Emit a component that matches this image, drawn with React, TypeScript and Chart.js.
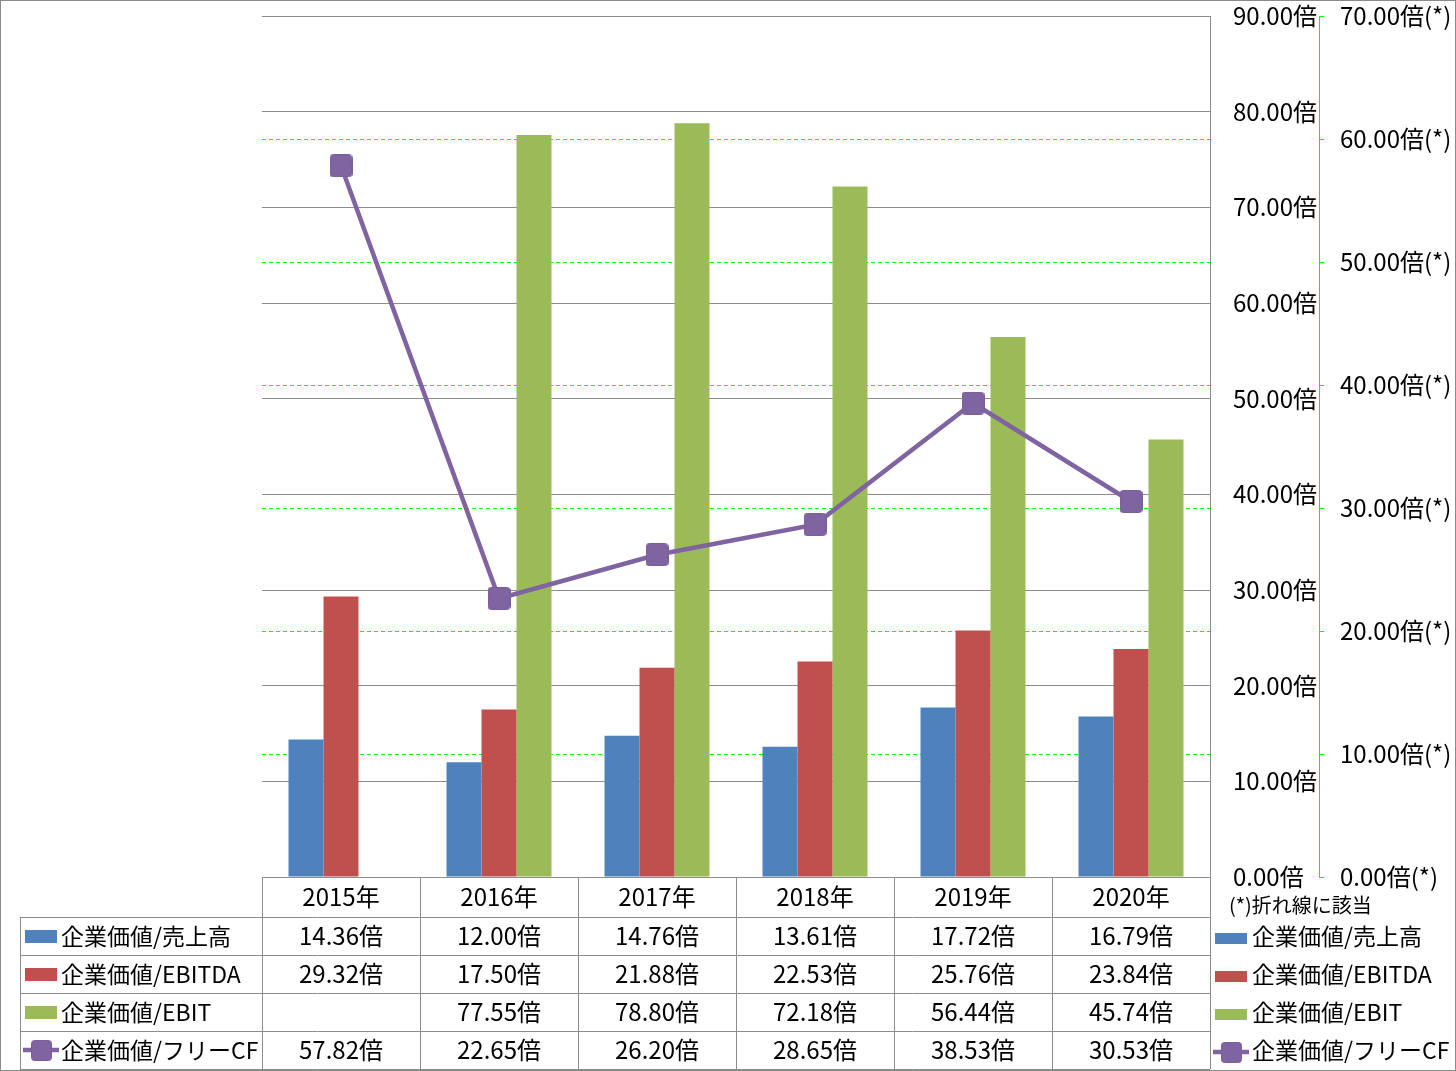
import React, { useEffect, useRef } from "react";
import { Chart, registerables } from "chart.js";

Chart.register(...registerables);

const categories = ["2015年", "2016年", "2017年", "2018年", "2019年", "2020年"];
const seriesNames = ["企業価値/売上高", "企業価値/EBITDA", "企業価値/EBIT", "企業価値/フリーCF"];
const evSales = [14.36, 12.0, 14.76, 13.61, 17.72, 16.79];
const evEbitda = [29.32, 17.5, 21.88, 22.53, 25.76, 23.84];
const evEbit: (number | null)[] = [null, 77.55, 78.8, 72.18, 56.44, 45.74];
const evFcf = [57.82, 22.65, 26.2, 28.65, 38.53, 30.53];
const seriesColors = ["#4F81BD", "#C0504D", "#9BBB59", "#8064A2"];
const primaryMax = 90;
const secondaryMax = 70;
const tickStep = 10;
const noteText = "(*)折れ線に該当";

const FONT = '"Noto Sans CJK JP", "Noto Sans", sans-serif';

function makeMarker(size: number) {
  const c = document.createElement("canvas");
  c.width = size;
  c.height = size;
  const g = c.getContext("2d")!;
  const r = 3;
  g.beginPath();
  g.moveTo(r + 0.5, 0.5);
  g.arcTo(size - 0.5, 0.5, size - 0.5, size - 0.5, r);
  g.arcTo(size - 0.5, size - 0.5, 0.5, size - 0.5, r);
  g.arcTo(0.5, size - 0.5, 0.5, 0.5, r);
  g.arcTo(0.5, 0.5, size - 0.5, 0.5, r);
  g.closePath();
  g.fillStyle = "#8064A2";
  g.fill();
  g.strokeStyle = "#7A5E9C";
  g.lineWidth = 1;
  g.stroke();
  return c;
}

export default function App() {
  const ref = useRef<HTMLCanvasElement | null>(null);

  useEffect(() => {
    const canvas = ref.current;
    if (!canvas) return;
    const marker = makeMarker(23);
    const smallMarker = makeMarker(21);
    const seriesValues = [evSales, evEbitda, evEbit, evFcf];

    const tablePlugin = {
      id: "dataTable",
      afterDraw(chart: any) {
        const ctx = chart.ctx as CanvasRenderingContext2D;
        const xs = chart.scales.x;
        const area = chart.chartArea;
        const W = chart.width;
        const H = chart.height;
        const catW = (area.right - area.left) / categories.length;
        const top = area.bottom;
        const headerH = 40;
        const rowH = 38;
        const labelLeft = 20;
        const rowTops = [top + headerH];
        for (let i = 1; i <= seriesNames.length; i++) rowTops.push(top + headerH + i * rowH);
        const bottom = rowTops[rowTops.length - 1];
        ctx.save();
        // outer border
        ctx.strokeStyle = "#8A8A8A";
        ctx.lineWidth = 1;
        ctx.strokeRect(0.5, 0.5, W - 1, H - 1);
        // table lines
        ctx.strokeStyle = "#8C8C8C";
        ctx.beginPath();
        ctx.moveTo(area.left, top + 0.5);
        ctx.lineTo(area.right, top + 0.5);
        for (const y of rowTops) {
          ctx.moveTo(labelLeft, Math.round(y) + 0.5);
          ctx.lineTo(area.right, Math.round(y) + 0.5);
        }
        ctx.moveTo(labelLeft + 0.5, rowTops[0]);
        ctx.lineTo(labelLeft + 0.5, bottom);
        for (let i = 0; i <= categories.length; i++) {
          const x = Math.round(area.left + i * catW) + 0.5;
          ctx.moveTo(x, top);
          ctx.lineTo(x, bottom);
        }
        ctx.stroke();

        ctx.fillStyle = "#000";
        ctx.textBaseline = "middle";
        ctx.font = `24px ${FONT}`;
        ctx.textAlign = "center";
        categories.forEach((c, i) => {
          ctx.fillText(c, xs.getPixelForValue(i), top + headerH / 2);
        });
        seriesValues.forEach((vals, s) => {
          const cy = rowTops[s] + rowH / 2;
          ctx.textAlign = "center";
          ctx.fillStyle = "#000";
          vals.forEach((v, i) => {
            if (v === null || v === undefined) return;
            ctx.fillText(`${v.toFixed(2)}倍`, xs.getPixelForValue(i), cy);
          });
        });

        const drawKey = (s: number, x0: number, cy: number, boxH: number, mk: HTMLCanvasElement) => {
          if (s < 3) {
            ctx.fillStyle = seriesColors[s];
            ctx.fillRect(x0, Math.round(cy - boxH / 2), 32, boxH);
          } else {
            ctx.strokeStyle = seriesColors[3];
            ctx.lineWidth = 4.5;
            ctx.beginPath();
            ctx.moveTo(x0 - 2, cy);
            ctx.lineTo(x0 + 34, cy);
            ctx.stroke();
            ctx.drawImage(mk, Math.round(x0 + 16 - mk.width / 2), Math.round(cy - mk.height / 2));
          }
        };

        // left label column
        seriesNames.forEach((name, s) => {
          const cy = rowTops[s] + rowH / 2;
          drawKey(s, 25, cy, 13, smallMarker);
          ctx.fillStyle = "#000";
          ctx.textAlign = "left";
          ctx.font = `23px ${FONT}`;
          ctx.fillText(name, 61, cy);
        });

        // right legend
        ctx.font = `20px ${FONT}`;
        ctx.textAlign = "left";
        ctx.fillStyle = "#000";
        ctx.fillText(noteText, area.right + 19, top + 28);
        seriesNames.forEach((name, s) => {
          const cy = rowTops[s] + rowH / 2;
          drawKey(s, area.right + 5, cy + 2, 11, smallMarker);
          ctx.fillStyle = "#000";
          ctx.textAlign = "left";
          ctx.font = `23px ${FONT}`;
          ctx.fillText(name, area.right + 42, cy);
        });
        ctx.restore();
      },
    };

    const chart = new Chart(canvas, {
      type: "bar",
      data: {
        labels: categories,
        datasets: [
          {
            type: "line",
            label: seriesNames[3],
            data: evFcf,
            yAxisID: "y1",
            borderColor: seriesColors[3],
            backgroundColor: seriesColors[3],
            borderWidth: 4.5,
            pointStyle: marker as any,
            order: 0,
          } as any,
          {
            label: seriesNames[0],
            data: evSales,
            backgroundColor: seriesColors[0],
            yAxisID: "y",
            order: 1,
          },
          {
            label: seriesNames[1],
            data: evEbitda,
            backgroundColor: seriesColors[1],
            yAxisID: "y",
            order: 1,
          },
          {
            label: seriesNames[2],
            data: evEbit,
            backgroundColor: seriesColors[2],
            yAxisID: "y",
            order: 1,
          },
        ],
      },
      options: {
        responsive: false,
        animation: false,
        devicePixelRatio: 1,
        layout: { padding: { left: 262, top: 16, bottom: 194, right: 0 } },
        datasets: { bar: { categoryPercentage: 105 / 158, barPercentage: 1 } },
        plugins: { legend: { display: false }, tooltip: { enabled: false } },
        scales: {
          x: { display: false, offset: true },
          y: {
            position: "right",
            min: 0,
            max: primaryMax,
            afterFit: (s: any) => {
              s.width = 109;
              s.paddingTop = 0;
              s.paddingBottom = 0;
            },
            grid: { color: "#8C8C8C", drawTicks: false, lineWidth: 1 },
            border: { display: true, color: "#8C8C8C" },
            ticks: {
              stepSize: tickStep,
              padding: 23,
              color: "#000",
              font: { family: FONT, size: 24 },
              callback: (v: any) => `${Number(v).toFixed(2)}倍`,
            },
          },
          y1: {
            position: "right",
            min: 0,
            max: secondaryMax,
            afterFit: (s: any) => {
              s.width = 137;
              s.paddingTop = 0;
              s.paddingBottom = 0;
            },
            grid: {
              color: (c: any) =>
                c.tick && (c.tick.value === 0 || c.tick.value === secondaryMax) ? "rgba(0,0,0,0)" : "#00FF00",
              tickColor: "#00FF00",
              drawTicks: true,
              tickLength: 8,
              borderDash: [4, 3],
              tickBorderDash: [4, 3],
              lineWidth: 1,
            } as any,
            border: { display: true, color: "#00FF00", dash: [4, 3] },
            ticks: {
              stepSize: tickStep,
              padding: 13,
              color: "#000",
              font: { family: FONT, size: 24 },
              callback: (v: any) => `${Number(v).toFixed(2)}倍(*)`,
            },
          },
        },
      } as any,
      plugins: [tablePlugin],
    });
    return () => chart.destroy();
  }, []);

  return (
    <div style={{ position: "absolute", left: 0, top: 0, width: 1456, height: 1071, background: "#fff" }}>
      <canvas ref={ref} width={1456} height={1071} style={{ display: "block", width: 1456, height: 1071 }} />
    </div>
  );
}
